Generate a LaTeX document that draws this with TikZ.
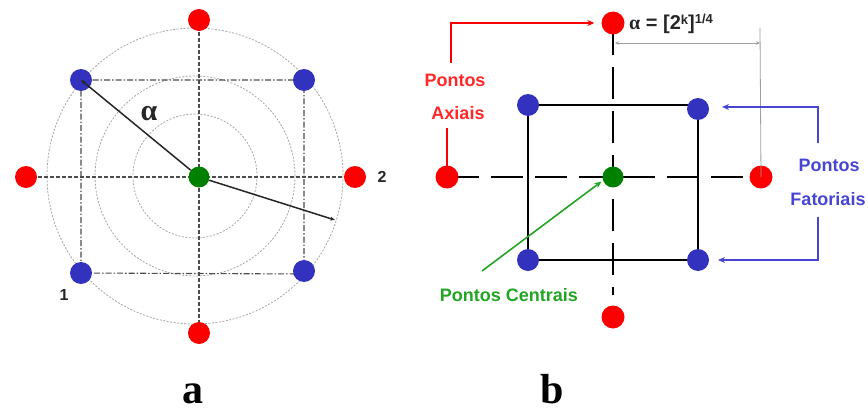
\documentclass[tikz,border=0pt]{standalone}
\usepackage{fontspec}
\setmainfont{Liberation Sans}
\newfontfamily\tnr{Liberation Serif}
\usetikzlibrary{arrows.meta,backgrounds}
\definecolor{dotred}{RGB}{250,0,0}
\definecolor{dotblue}{RGB}{50,50,190}
\definecolor{dotgreen}{RGB}{0,128,0}
\definecolor{txtred}{RGB}{255,40,40}
\definecolor{txtblue}{RGB}{70,70,210}
\definecolor{txtgreen}{RGB}{34,165,34}
\begin{document}
\begin{tikzpicture}[x=1pt,y=-1pt,
  dot/.style={circle,minimum size=22pt,inner sep=0pt},
  rdot/.style={dot,fill=dotred},
  bdot/.style={dot,fill=dotblue},
  gdot/.style={dot,fill=dotgreen,minimum size=21pt},
  ring/.style={gray!70,dash pattern=on 2pt off 1.5pt,line width=0.8pt},
  axa/.style={black!70,dash pattern=on 4pt off 2pt,line width=1.2pt},
  sqa/.style={black!70,dash pattern=on 6pt off 2pt on 1.5pt off 2pt,line width=1.1pt},
  vec/.style={black!85,line width=1.5pt,-{Stealth[length=5pt,width=4pt]}},
  thick3/.style={black,line width=2.6pt},
  axb/.style={black,line width=2.6pt,dash pattern=on 32pt off 12pt},
  lbl/.style={font=\bfseries\fontsize{18}{21}\selectfont},
  pointer/.style={line width=1.5pt,-{Stealth[length=7pt,width=6pt]}},
  dim/.style={gray!75,line width=0.8pt},
  panel/.style={font=\tnr\bfseries\fontsize{42}{46}\selectfont,anchor=base}
]
\useasboundingbox (0,0) rectangle (868,412);

% ---------- panel a ----------
\node[rdot] (aT) at (199,20) {};
\node[rdot] (aB) at (199,333) {};
\node[rdot] (aL) at (26,177) {};
\node[rdot] (aR) at (355,177) {};
\node[bdot] (a1) at (81,80) {};
\node[bdot] (a2) at (304,80) {};
\node[bdot] (a3) at (81,273) {};
\node[bdot] (a4) at (304,271) {};
\node[gdot] (aG) at (199,177) {};
\coordinate (ac) at (195,176);
\coordinate (aEnd) at (335,220);
\begin{pgfonlayer}{background}
  \draw[ring] (ac) circle[radius=62];
  \draw[ring] (ac) circle[radius=100];
  \draw[ring] (ac) circle[radius=148];
  \draw[axa] (aT.center) -- (aB.center);
  \draw[axa] (aL.center) -- (aR.center);
  \draw[sqa] (a1.center) -- (a2.center) -- (304,274) -- (a3.center) -- cycle;
\end{pgfonlayer}
\draw[vec] (aG) -- (a1.center);
\draw[vec] (aG) -- (aEnd);
\node[font=\tnr\bfseries\fontsize{30}{32}\selectfont,black!85] (alpha) at (149,114) {α};
\node[font=\bfseries\fontsize{16}{18}\selectfont,black!85] (l1) at (64,295) {1};
\node[font=\bfseries\fontsize{16}{18}\selectfont,black!85] (l2) at (382,177) {2};
\node[panel] (pa) at (193,403) {a};

% ---------- panel b ----------
\node[rdot,minimum size=23pt] (bT) at (613,23) {};
\node[rdot,minimum size=23pt] (bB) at (613,317) {};
\node[rdot,minimum size=23pt] (bL) at (447,177) {};
\node[rdot,minimum size=23pt] (bR) at (761,177) {};
\node[bdot] (b1) at (528,105) {};
\node[bdot] (b2) at (698,109) {};
\node[bdot] (b3) at (528,260) {};
\node[bdot] (b4) at (698,260) {};
\node[gdot] (bG) at (613,177) {};
\coordinate (vEnd) at (613,295);
\begin{pgfonlayer}{background}
  \draw[thick3] (b1.center) -- (698,105) -- (b2.center) -- (b4.center) -- (b3.center) -- cycle;
  \draw[axb] (bT.center) -- (vEnd);
  \draw[axb] (bL.center) -- (bR.center);
\end{pgfonlayer}

% dimension
\coordinate (dL) at (615,43);
\coordinate (dR) at (760,43);
\coordinate (dTop) at (760,28);
\draw[dim] (dTop) -- (bR.center);
\draw[dim,{Stealth[length=4pt,width=3.5pt]}-{Stealth[length=4pt,width=3.5pt]}] (dL) -- (dR);
\node[font=\bfseries\fontsize{20}{22}\selectfont,black!85,anchor=west,inner sep=0pt] (form) at (629,24)
  {{\tnr α} = [2{\fontsize{13}{14}\selectfont\raisebox{0.45em}{k}}]{\fontsize{13}{14}\selectfont\raisebox{0.5em}{1/4}}};

% axial label
\node[lbl,txtred] (ax1) at (455,80) {Pontos};
\node[lbl,txtred] (ax2) at (458,113) {Axiais};
\coordinate (rA) at (451,63);
\coordinate (rB) at (451,23);
\coordinate (rC) at (447,128);
\draw[pointer,dotred] (rA) -- (rB) -- ([xshift=-7pt]bT.west);
\draw[pointer,dotred] (rC) -- ([yshift=-8pt]bL.north);

% factorial label
\node[lbl,txtblue] (f1) at (829,165) {Pontos};
\node[lbl,txtblue] (f2) at (828,199) {Fatoriais};
\coordinate (uA) at (818,143);
\coordinate (uB) at (818,107);
\coordinate (uC) at (722,107);
\coordinate (dA) at (818,217);
\coordinate (dB) at (818,260);
\coordinate (dC) at (718,260);
\draw[pointer,txtblue] (uA) -- (uB) -- (uC);
\draw[pointer,txtblue] (dA) -- (dB) -- (dC);

% central label
\node[lbl,txtgreen] (cen) at (509,295) {Pontos Centrais};
\coordinate (gS) at (482,271);
\draw[pointer,txtgreen,line width=1.6pt] (gS) -- ([shift={(-4pt,3pt)}]bG.south west);

\node[panel] (pb) at (552,403) {b};
\end{tikzpicture}
\end{document}
